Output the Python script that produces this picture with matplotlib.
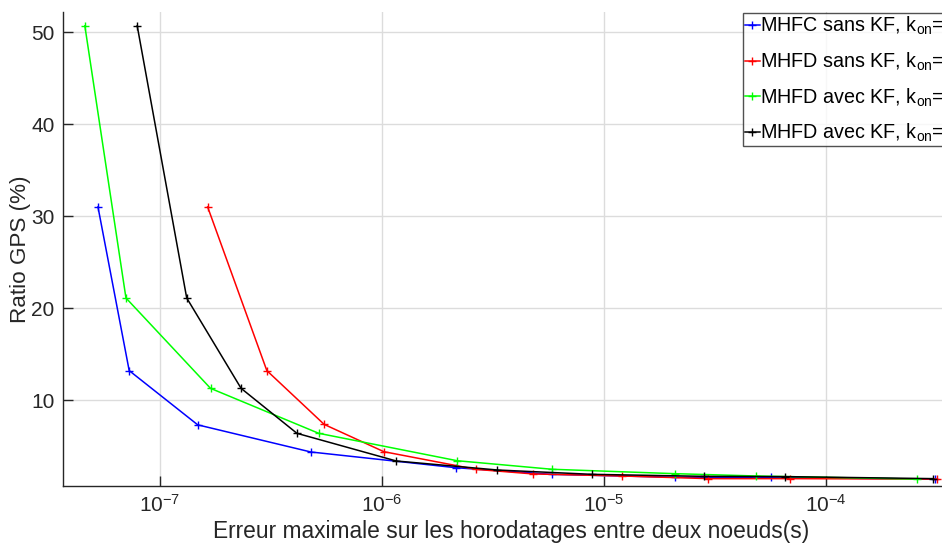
import numpy as np
import matplotlib
matplotlib.use("Agg")
import matplotlib.pyplot as plt
from matplotlib.ticker import LogLocator, NullLocator

plt.rcParams['font.family'] = ['Liberation Sans', 'DejaVu Sans']
plt.rcParams['mathtext.fontset'] = 'custom'
plt.rcParams['mathtext.rm'] = 'Liberation Sans'
plt.rcParams['mathtext.it'] = 'Liberation Sans'
plt.rcParams['axes.unicode_minus'] = False

# series (x: max timestamp error in s, y: GPS ratio in %)
labels = [
    "MHFC sans KF, k$_{on}$=1",
    "MHFD sans KF, k$_{on}$=1",
    "MHFD avec KF, k$_{on}$=2",
    "MHFD avec KF, k$_{on}$=2",
]
colors = ["#0000ff", "#ff0000", "#00ff00", "#000000"]

x_blue = [5.26e-8, 7.27e-8, 1.48e-7, 4.78e-7, 2.15e-6, 5.8e-6, 2.09e-5, 5.64e-5, 3.1e-4]
y_blue = [31.0, 13.2, 7.3, 4.35, 2.64, 1.92, 1.6, 1.58, 1.4]

x_red = [1.64e-7, 3.03e-7, 5.49e-7, 1.02e-6, 2.65e-6, 4.81e-6, 1.2e-5, 2.95e-5, 6.89e-5, 3.15e-4]
y_red = [31.0, 13.2, 7.35, 4.38, 2.46, 1.96, 1.74, 1.45, 1.45, 1.4]

x_green = [4.59e-8, 7.03e-8, 1.69e-7, 5.19e-7, 2.18e-6, 5.83e-6, 2.09e-5, 4.82e-5, 2.56e-4]
y_green = [50.7, 21.1, 11.27, 6.38, 3.4, 2.47, 1.99, 1.74, 1.4]

x_black = [7.9e-8, 1.32e-7, 2.32e-7, 4.14e-7, 1.16e-6, 3.31e-6, 8.8e-6, 2.83e-5, 6.53e-5, 3.04e-4]
y_black = [50.7, 21.1, 11.27, 6.38, 3.37, 2.39, 1.92, 1.7, 1.67, 1.45]

series = [(x_blue, y_blue), (x_red, y_red), (x_green, y_green), (x_black, y_black)]

fig = plt.figure(figsize=(9.42, 5.47), dpi=100)
ax = fig.add_axes([63/942, 61/547, 0.952, 474/547])

for (xs, ys), c, lab in zip(series, colors, labels):
    ax.plot(xs, ys, color=c, lw=1.1, marker='+', ms=6, mew=1.0, label=lab)

ax.set_xscale('log')
ax.set_xlim(3.66e-8, 4e-4)
ax.set_ylim(0.65, 52.2)
ax.xaxis.set_major_locator(LogLocator(base=10, numticks=10))
ax.xaxis.set_minor_locator(NullLocator())
ax.set_yticks([10, 20, 30, 40, 50])

dark = "#262626"
for s in ['top', 'right']:
    ax.spines[s].set_visible(False)
for s in ['left', 'bottom']:
    ax.spines[s].set_color(dark)
    ax.spines[s].set_linewidth(1.0)
ax.tick_params(direction='in', length=7, width=1.0, colors=dark, labelsize=15, pad=6)
ax.grid(True, color='#dcdcdc', lw=1.0)
ax.set_axisbelow(True)

ax.set_xlabel("Erreur maximale sur les horodatages entre deux noeuds(s)", fontsize=16.4, color=dark, labelpad=3)
ax.set_ylabel("Ratio GPS (%)", fontsize=16.2, color=dark, labelpad=0.5)

leg = ax.legend(loc='upper left', bbox_to_anchor=(743/942, 1 - 13/547),
                bbox_transform=fig.transFigure, fontsize=14.2, frameon=True,
                fancybox=False, edgecolor=dark, handlelength=0.75,
                handletextpad=0.0, borderpad=0.1, labelspacing=0.68,
                borderaxespad=0)
leg.get_frame().set_linewidth(1.0)

fig.savefig("out.png", dpi=100)
